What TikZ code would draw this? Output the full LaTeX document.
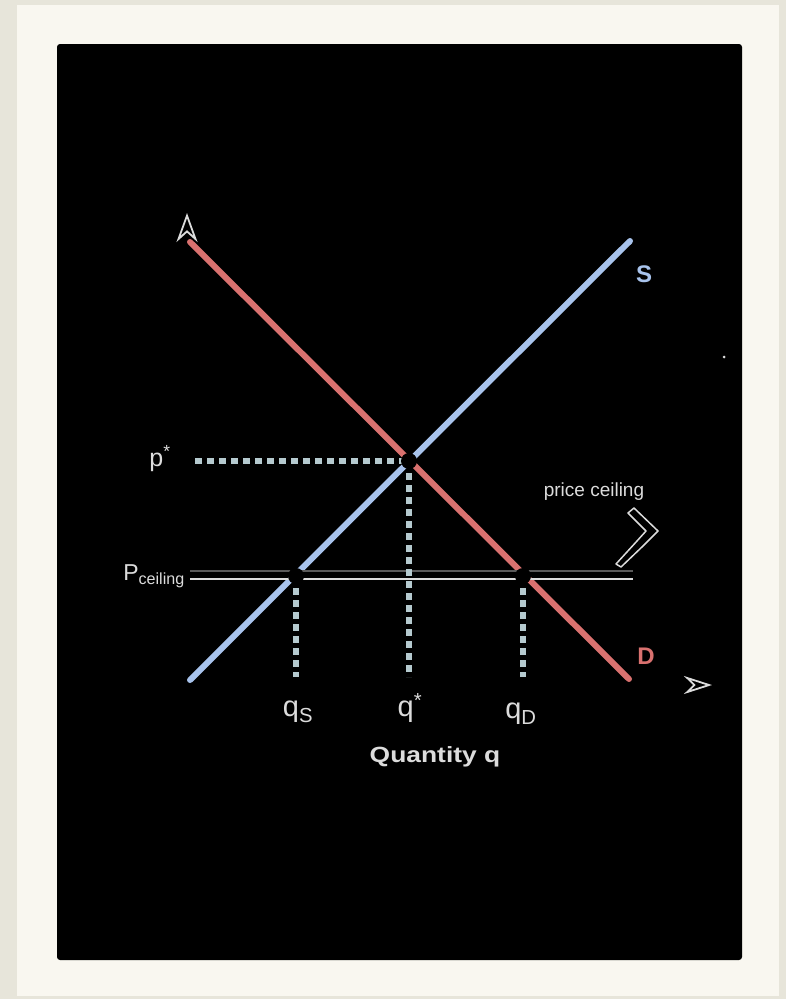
\documentclass[tikz,border=0pt]{standalone}
\usepackage{fontspec}
\setmainfont{Liberation Sans}
\usetikzlibrary{arrows.meta}
\definecolor{beige}{HTML}{E7E5DA}
\definecolor{cream}{HTML}{F9F7F0}
\definecolor{dcurve}{HTML}{D9716F}
\definecolor{scurve}{HTML}{A8C3EC}
\definecolor{guide}{HTML}{B5CACF}
\definecolor{labelc}{HTML}{DCDCDC}
\definecolor{ceildark}{HTML}{5A5A5A}
\begin{document}
\begin{tikzpicture}[x=1pt,y=-1pt,
  guideline/.style={guide, line width=6pt, dash pattern=on 7pt off 5pt},
  curve/.style={line width=6pt, line cap=round},
  eqdot/.style={circle, fill=black, inner sep=0pt, minimum size=16pt},
  lbl/.style={text=labelc, inner sep=0pt, font=\fontsize{23}{25}\selectfont},
  qlbl/.style={text=labelc, inner sep=0pt, font=\fontsize{29}{31}\selectfont},
  curvelbl/.style={inner sep=0pt, font=\fontsize{24}{26}\selectfont\bfseries}
]
\useasboundingbox (0,0) rectangle (786,999);
\fill[beige] (0,0) rectangle (786,999);
\fill[cream] (17,5) rectangle (779,996);
\fill[black, rounded corners=3pt] (57,44) rectangle (742,960);

% axes
\coordinate (O) at (187,685);
\coordinate (Ytop) at (187,213);
\coordinate (Xend) at (712,685);
\draw[black, line width=1pt, -{Stealth[open, length=29pt, width=21pt, color=labelc, line width=1.8pt]}] (O) -- (Ytop);
\draw[black, line width=1pt, -{Stealth[open, length=28pt, width=18pt, color=labelc, line width=1.8pt]}] (O) -- (Xend);

% curves
\coordinate (D0) at (190,242);
\coordinate (D1) at (629,679);
\coordinate (S0) at (190,680);
\coordinate (S1) at (630,241);
\draw[curve, dcurve] (D0) -- (D1);
\draw[curve, scurve] (S0) -- (S1);

% price ceiling line
\coordinate (Ca) at (190,571);
\coordinate (Cb) at (633,571);
\coordinate (Cc) at (190,579);
\coordinate (Cd) at (633,579);
\draw[ceildark, line width=2pt] (Ca) -- (Cb);
\draw[labelc, line width=2pt] (Cc) -- (Cd);

% key points
\coordinate (E) at (409,461);
\coordinate (A) at (296,576);
\coordinate (B) at (523,576);
\coordinate (Pl) at (195,461);
\coordinate (Eb) at (409,677);
\coordinate (Ab) at (296,677);
\coordinate (Bb) at (523,677);

% guides
\draw[guideline] (Pl) -- (E);
\draw[guideline] (E) -- (Eb);
\draw[guideline] (A) -- (Ab);
\draw[guideline] (B) -- (Bb);

\node[eqdot] (Edot) at (E) {};
\node[eqdot] (Adot) at (A) {};
\node[eqdot] (Bdot) at (B) {};

% labels
\node[lbl, font=\fontsize{25}{27}\selectfont] (pstar) at (160,459) {p\textsuperscript{*}};
\node[lbl] (pceil) at (154,576) {P\textsubscript{ceiling}};
\node[lbl, font=\fontsize{19}{21}\selectfont] (pcl) at (594,492) {price ceiling};
\draw[labelc, line width=1.5pt, fill=black, line join=round]
  (628,513) -- (634,508) -- (658,531) -- (643,546) -- (621,567) -- (616,564) -- (637,541) -- (646,531) -- cycle;
\node[curvelbl, text=scurve] (S) at (644,274) {S};
\node[curvelbl, text=dcurve] (D) at (646,656) {D};
\node[qlbl] (qs) at (298,712) {q\textsubscript{S}};
\node[qlbl] (qstar) at (410,708) {q\textsuperscript{*}};
\node[qlbl] (qd) at (521,714) {q\textsubscript{D}};
\node[lbl, font=\fontsize{22}{24}\selectfont\bfseries, xscale=1.2] (ql) at (435,757) {Quantity q};
\fill[labelc] (724,357) circle (1.5pt);
\end{tikzpicture}
\end{document}
